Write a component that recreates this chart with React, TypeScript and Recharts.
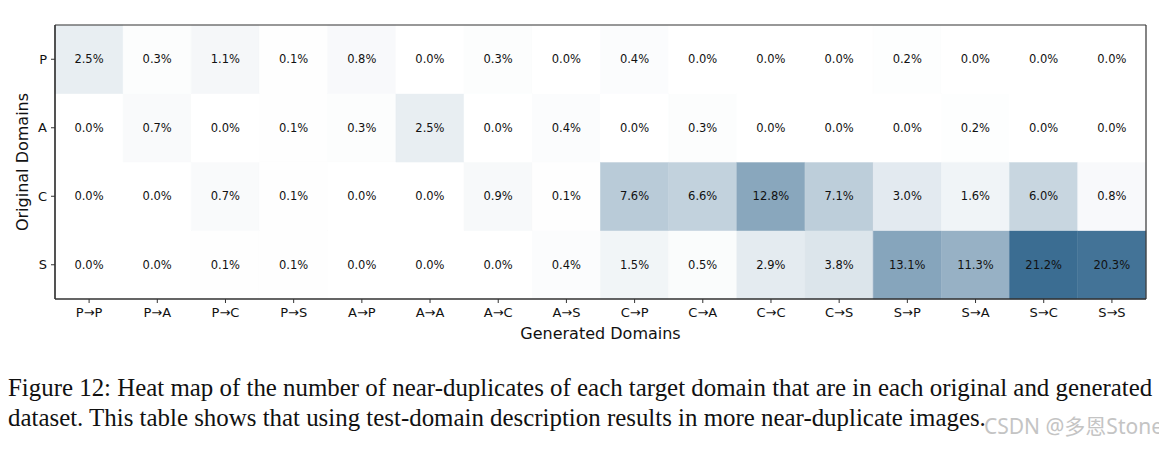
import React from "react";
import { BarChart, Bar, XAxis, YAxis, Cell, LabelList, ReferenceLine } from "recharts";

const generated = ["P→P", "P→A", "P→C", "P→S", "A→P", "A→A", "A→C", "A→S", "C→P", "C→A", "C→C", "C→S", "S→P", "S→A", "S→C", "S→S"];
const rowLabels = ["P", "A", "C", "S"];
const rowP = [2.5, 0.3, 1.1, 0.1, 0.8, 0.0, 0.3, 0.0, 0.4, 0.0, 0.0, 0.0, 0.2, 0.0, 0.0, 0.0];
const rowA = [0.0, 0.7, 0.0, 0.1, 0.3, 2.5, 0.0, 0.4, 0.0, 0.3, 0.0, 0.0, 0.0, 0.2, 0.0, 0.0];
const rowC = [0.0, 0.0, 0.7, 0.1, 0.0, 0.0, 0.9, 0.1, 7.6, 6.6, 12.8, 7.1, 3.0, 1.6, 6.0, 0.8];
const rowS = [0.0, 0.0, 0.1, 0.1, 0.0, 0.0, 0.0, 0.4, 1.5, 0.5, 2.9, 3.8, 13.1, 11.3, 21.2, 20.3];

const VMAX = 21.2;
const DARK = [59, 109, 146];
const color = (v: number) => {
  const t = Math.max(0, Math.min(1, v / VMAX));
  const c = DARK.map((d) => Math.round(255 - t * (255 - d)));
  return `rgb(${c[0]},${c[1]},${c[2]})`;
};

const data = generated.map((g, i) => ({ gen: g, P: rowP[i], A: rowA[i], C: rowC[i], S: rowS[i] }));

// stacked bottom-to-top
const stackOrder = ["S", "C", "A", "P"];
const yTicks = [0.5, 1.5, 2.5, 3.5];
const yTickLabel = (v: number) => rowLabels[3 - Math.floor(v)] ?? "";

const FONT = "'DejaVu Sans', sans-serif";
const AXIS = "#333";

export default function App() {
  return (
    <div style={{ width: 1159, background: "#fff" }}>
      <BarChart
        width={1159}
        height={350}
        data={data}
        margin={{ top: 17, right: 21, bottom: 9, left: 0 }}
        barCategoryGap={0}
        barGap={0}
        style={{ fontFamily: FONT }}
      >
        <XAxis
          dataKey="gen"
          type="category"
          height={50}
          tick={{ fill: "#111", fontSize: 13, fontFamily: FONT }}
          tickLine={{ stroke: AXIS }}
          tickSize={4}
          tickMargin={5}
          axisLine={{ stroke: AXIS, strokeWidth: 1.2 }}
          interval={0}
          label={{ value: "Generated Domains", position: "insideBottom", offset: 10, fill: "#111", fontSize: 16, fontFamily: FONT }}
        />
        <YAxis
          type="number"
          domain={[0, 4]}
          ticks={yTicks}
          tickFormatter={yTickLabel}
          width={47}
          tick={{ fill: "#111", fontSize: 13, fontFamily: FONT }}
          tickLine={{ stroke: AXIS }}
          tickSize={4}
          tickMargin={4}
          axisLine={{ stroke: AXIS, strokeWidth: 1.2 }}
          label={{ value: "Original Domains", angle: -90, position: "insideLeft", offset: 14, fill: "#111", fontSize: 16, fontFamily: FONT, style: { textAnchor: "middle" } }}
        />
        {stackOrder.map((row) => (
          <Bar key={row} dataKey={() => 1} stackId="a" isAnimationActive={false} name={row}>
            {data.map((d, i) => {
              const v = (d as any)[row] as number;
              return <Cell key={i} fill={color(v)} stroke={color(v)} strokeWidth={0.6} />;
            })}
            <LabelList
              dataKey={row}
              position="center"
              formatter={(v: any) => `${Number(v).toFixed(1)}%`}
              style={{ fill: "#111", fontSize: 11.5, fontFamily: FONT }}
            />
          </Bar>
        ))}
        <ReferenceLine y={4} stroke={AXIS} strokeWidth={1.2} />
        <ReferenceLine x={generated[generated.length - 1]} position="end" stroke={AXIS} strokeWidth={1.2} />
        <ReferenceLine x={generated[0]} position="start" stroke={AXIS} strokeWidth={1.2} />
        <ReferenceLine y={0} stroke={AXIS} strokeWidth={1.2} />
      </BarChart>
      <div style={{ fontFamily: "'Liberation Serif', 'Times New Roman', serif", fontSize: 24.9, lineHeight: "30px", color: "#111", marginTop: 15, whiteSpace: "nowrap" }}>
        <div>Figure 12: Heat map of the number of near-duplicates of each target domain that are in each original and generated</div>
        <div style={{ display: "flex", justifyContent: "space-between", alignItems: "flex-start" }}>
          <span style={{ flexShrink: 0 }}>dataset. This table shows that using test-domain description results in more near-duplicate images.</span>
          <span style={{ flexShrink: 0, fontFamily: "'Noto Sans', 'Noto Sans CJK SC', sans-serif", fontSize: 21, lineHeight: "22px", color: "#c4c4c4", marginTop: 12, marginRight: 4, marginLeft: -40 }}>CSDN @多恩Stone</span>
        </div>
      </div>
    </div>
  );
}
